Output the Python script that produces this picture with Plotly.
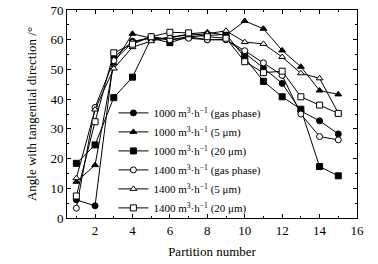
import plotly.graph_objects as go

partition = list(range(1, 16))

g1000_gas = [6.1, 4.1, 54.0, 59.5, 60.5, 60.0, 61.0, 60.0, 60.0, 55.5, 50.5, 45.3, 36.0, 32.7, 28.3]
g1000_5um = [12.2, 17.8, 52.0, 62.0, 60.5, 60.5, 62.0, 62.5, 61.5, 66.3, 63.7, 56.4, 50.9, 42.9, 41.6]
g1000_20um = [18.4, 24.6, 40.5, 47.4, 60.5, 59.0, 61.0, 61.5, 61.8, 54.0, 46.0, 40.8, 36.6, 17.3, 14.2]
g1400_gas = [3.3, 37.2, 53.0, 59.0, 61.0, 60.0, 60.5, 60.0, 60.0, 56.3, 52.2, 48.0, 35.0, 27.4, 26.3]
g1400_5um = [13.4, 36.5, 50.3, 57.5, 59.5, 61.0, 61.5, 62.0, 63.0, 59.2, 58.6, 54.2, 48.7, 47.0, 35.3]
g1400_20um = [7.4, 32.4, 55.6, 58.5, 61.0, 62.5, 62.3, 61.0, 60.5, 52.6, 48.9, 49.4, 40.8, 38.0, 35.2]

names = [
    "1000 m<sup>3</sup>·h<sup>−1</sup> (gas phase)",
    "1000 m<sup>3</sup>·h<sup>−1</sup> (5 μm)",
    "1000 m<sup>3</sup>·h<sup>−1</sup> (20 μm)",
    "1400 m<sup>3</sup>·h<sup>−1</sup> (gas phase)",
    "1400 m<sup>3</sup>·h<sup>−1</sup> (5 μm)",
    "1400 m<sup>3</sup>·h<sup>−1</sup> (20 μm)",
]
series = [g1000_gas, g1000_5um, g1000_20um, g1400_gas, g1400_5um, g1400_20um]
symbols = ["circle", "triangle-up", "square", "circle-open", "triangle-up-open", "square-open"]

fig = go.Figure()
for name, ys, sym in zip(names, series, symbols):
    open_ = sym.endswith("open")
    fig.add_trace(go.Scatter(
        x=partition, y=ys, name=name, mode="lines+markers",
        line=dict(color="black", width=1),
        marker=dict(symbol=sym.replace("-open", ""), size=6,
                    color="white" if open_ else "black",
                    line=dict(color="black", width=1)),
    ))

font = "Liberation Serif, Times New Roman, serif"
axis_common = dict(
    showline=True, linecolor="black", linewidth=1, mirror="ticks",
    ticks="inside", ticklen=4, tickcolor="black", tickwidth=1,
    showgrid=False, zeroline=False, automargin=False,
    ticklabeloverflow="allow",
    tickfont=dict(family=font, size=13, color="black"),
)
fig.update_xaxes(range=[0.5, 16], dtick=2, tick0=0,
                 minor=dict(ticks="inside", ticklen=2, dtick=1, tick0=0, tickcolor="black"),
                 title=dict(text="Partition number", font=dict(family=font, size=13, color="black"), standoff=10),
                 **axis_common)
fig.update_yaxes(range=[0, 70], dtick=10,
                 minor=dict(ticks="inside", ticklen=2, dtick=5, tickcolor="black"),
                 title=dict(text="Angle with tangential direction /°", font=dict(family=font, size=13, color="black"), standoff=10),
                 **axis_common)
fig.update_layout(
    width=378, height=264,
    margin=dict(l=67, r=21, t=10, b=46, pad=0),
    plot_bgcolor="white", paper_bgcolor="white",
    showlegend=True,
    legend=dict(x=0.16, y=0.575, xanchor="left", yanchor="top",
                bgcolor="rgba(0,0,0,0)", font=dict(family=font, size=11, color="black"),
                tracegroupgap=0, itemwidth=30),
)
fig.write_html("out.html", config={"displayModeBar": False},
               post_script="document.body.style.margin='0';")
